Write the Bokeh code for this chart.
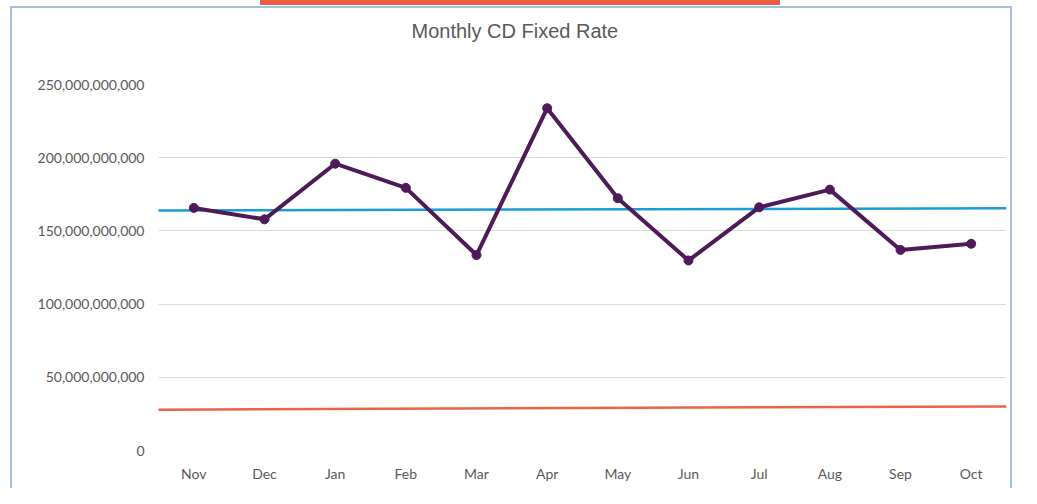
from bokeh.plotting import figure
from bokeh.models import Range1d, FactorRange, FixedTicker, NumeralTickFormatter, ColumnDataSource, Title
from bokeh.embed import file_html
from bokeh.resources import INLINE

months = ["Nov", "Dec", "Jan", "Feb", "Mar", "Apr", "May", "Jun", "Jul", "Aug", "Sep", "Oct"]
cd_fixed = [165.7e9, 157.9e9, 195.9e9, 179.4e9, 133.5e9, 233.8e9,
            172.3e9, 129.8e9, 166.1e9, 178.2e9, 137.0e9, 141.2e9]
blue_line_ends = [163.9e9, 165.5e9]
orange_line_ends = [27.9e9, 30.1e9]
y_ticks = [0, 50e9, 100e9, 150e9, 200e9, 250e9]

TEXT = "#595959"
BORDER = "#A2C1E0"
BAR = "#E95D40"
p = figure(width=1021, height=488, x_range=FactorRange(*months), y_range=Range1d(0, 250e9),
           output_backend="svg", toolbar_location=None, min_border_left=158,
           min_border_right=15, min_border_top=84, min_border_bottom=38)
p.outline_line_color = None
p.background_fill_color = None
p.border_fill_color = None
g = f"linear-gradient({BORDER},{BORDER})"
o = f"linear-gradient({BAR},{BAR})"
p.styles = {
    "background": (f"{o} 260px 0 / 520px 5px no-repeat, "
                   f"{g} 10px 6px / 2px 100% no-repeat, "
                   f"{g} 1010px 6px / 2px 100% no-repeat, "
                   f"{g} 10px 6px / 1002px 2px no-repeat, white"),
}

# spacer panel between the frame and the title
p.add_layout(Title(text=" ", text_font_size="1px", standoff=40), "above")

p.title.text = "Monthly CD Fixed Rate"
p.title.align = "left"
p.title.offset = 253
p.title.standoff = 0
p.title.text_font = "Liberation Sans"
p.title.text_font_size = "20px"
p.title.text_font_style = "normal"
p.title.text_color = TEXT

p.xgrid.grid_line_color = None
p.ygrid.grid_line_color = "#D9D9D9"
p.ygrid.grid_line_width = 1
p.yaxis.ticker = FixedTicker(ticks=y_ticks)
p.yaxis.formatter = NumeralTickFormatter(format="0,0")
for ax in (p.xaxis, p.yaxis):
    ax.axis_line_color = None
    ax.major_tick_line_color = None
    ax.minor_tick_line_color = None
    ax.major_tick_out = 0
    ax.major_label_text_color = TEXT
    ax.major_label_text_font = "Lato"
    ax.major_label_text_font_size = "14px"
p.yaxis.major_label_standoff = 14
p.xaxis.major_label_standoff = 14

ends_x = [(months[0], -0.55), (months[-1], 0.5)]
p.line(x=ends_x, y=orange_line_ends, line_color="#EA6547", line_width=2.5)
p.line(x=ends_x, y=blue_line_ends, line_color="#1B9BD8", line_width=2.5)

src = ColumnDataSource(dict(m=months, v=cd_fixed))
p.line("m", "v", source=src, line_color="#4E1A58", line_width=4)
p.scatter("m", "v", source=src, size=9, fill_color="#4E1A58", line_color="#4E1A58")

open("out.html", "w").write(file_html(p, INLINE))
